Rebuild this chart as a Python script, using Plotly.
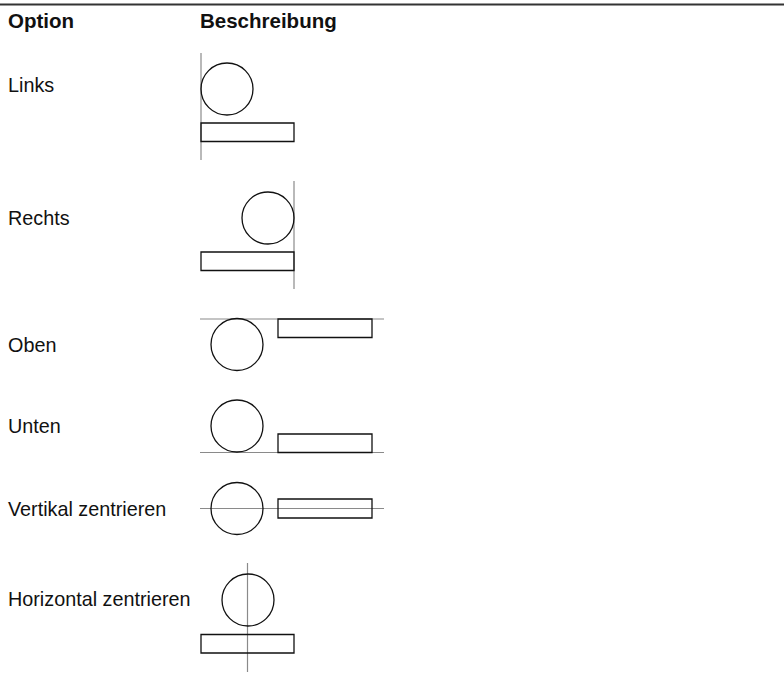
import plotly.graph_objects as go

W, H = 784, 687

# Header
headers = ["Option", "Beschreibung"]
header_x = [6, 198]
header_y = 20

# Rows
labels = ["Links", "Rechts", "Oben", "Unten", "Vertikal zentrieren", "Horizontal zentrieren"]
label_y = [85, 218, 345, 426, 509, 599]

# circle centers and radius
circle_cx = [227, 268, 237, 237, 237, 248]
circle_cy = [89, 218, 344.5, 426, 508.5, 600]
circle_r = 26

# rectangles (x0, x1, y0, y1)
rect_x0 = [201, 201, 278, 278, 278, 201]
rect_x1 = [294, 294, 372, 372, 372, 294]
rect_y0 = [123, 252, 319, 434, 499, 634.5]
rect_y1 = [141.5, 270.5, 337.5, 452.5, 518, 653]

# guide lines (x0, y0, x1, y1)
guide_x0 = [201, 294, 200, 200, 200, 247.5]
guide_x1 = [201, 294, 384, 384, 384, 247.5]
guide_y0 = [53, 181, 319, 452.5, 508.5, 563]
guide_y1 = [160, 289, 319, 452.5, 508.5, 672]

fig = go.Figure()
fig.add_trace(go.Scatter(x=[0, W], y=[0, H], mode="markers", marker=dict(opacity=0), hoverinfo="skip", showlegend=False))

shapes = []
shapes.append(dict(type="line", xref="x", yref="y", x0=0, x1=W, y0=4.5, y1=4.5,
                   line=dict(color="#333333", width=2)))
for i in range(len(labels)):
    shapes.append(dict(type="line", xref="x", yref="y", x0=guide_x0[i], x1=guide_x1[i],
                       y0=guide_y0[i], y1=guide_y1[i], line=dict(color="#8a8a8a", width=1.2)))
    shapes.append(dict(type="circle", xref="x", yref="y",
                       x0=circle_cx[i] - circle_r, x1=circle_cx[i] + circle_r,
                       y0=circle_cy[i] - circle_r, y1=circle_cy[i] + circle_r,
                       line=dict(color="#111111", width=1.3)))
    shapes.append(dict(type="rect", xref="x", yref="y", x0=rect_x0[i], x1=rect_x1[i],
                       y0=rect_y0[i], y1=rect_y1[i], line=dict(color="#111111", width=1.3)))

annotations = []
for t, x in zip(headers, header_x):
    annotations.append(dict(text="<b>" + t + "</b>", x=x, y=header_y, xref="x", yref="y",
                            xanchor="left", yanchor="middle", showarrow=False,
                            font=dict(family="Liberation Sans, Arial", size=20.5, color="#111111")))
for t, y in zip(labels, label_y):
    annotations.append(dict(text=t, x=6, y=y, xref="x", yref="y",
                            xanchor="left", yanchor="middle", showarrow=False,
                            font=dict(family="Liberation Sans, Arial", size=19.8, color="#111111")))

fig.update_layout(
    width=W, height=H, margin=dict(l=0, r=0, t=0, b=0),
    paper_bgcolor="white", plot_bgcolor="white",
    xaxis=dict(range=[0, W], visible=False, fixedrange=True),
    yaxis=dict(range=[H, 0], visible=False, fixedrange=True),
    shapes=shapes, annotations=annotations, showlegend=False,
)

fig.write_html("out.html", config={"displayModeBar": False, "staticPlot": True},
               post_script="document.body.style.margin='0';")
